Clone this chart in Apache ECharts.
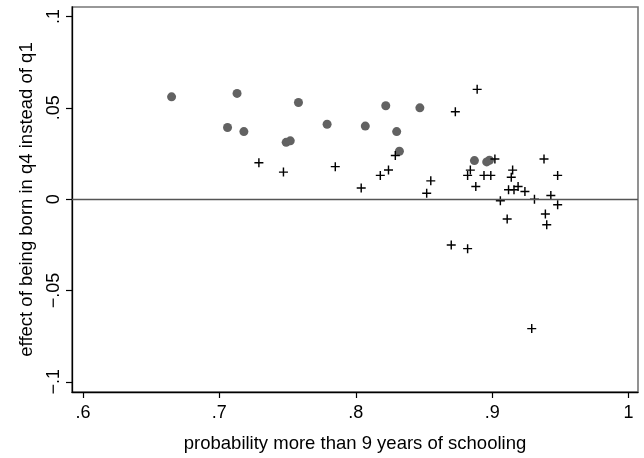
<!DOCTYPE html>
<html><head><meta charset="utf-8">
<script src="https://cdn.jsdelivr.net/npm/echarts@6/dist/echarts.min.js"></script>
<style>html,body{margin:0;padding:0;background:#fff}#c{width:644px;height:458px}</style>
</head><body><div id="c"></div>
<script>
// circles (gray dots)
const circleX = [0.665,0.713,0.706,0.718,0.758,0.749,0.752,0.779,0.807,0.822,0.847,0.830,0.832,0.887,0.896,0.898];
const circleY = [0.0560,0.0579,0.0392,0.0370,0.0529,0.0311,0.0319,0.0410,0.0400,0.0511,0.0500,0.0370,0.0262,0.0211,0.0204,0.0213];
// crosses (black plus)
const crossX = [0.729,0.747,0.785,0.804,0.818,0.824,0.829,0.852,0.855,0.870,0.873,0.882,0.889,0.882,0.884,0.888,0.894,0.899,0.902,0.906,0.911,0.912,0.916,0.914,0.915,0.919,0.924,0.929,0.931,0.938,0.939,0.940,0.943,0.948,0.948];
const crossY = [0.0199,0.0148,0.0178,0.0061,0.0130,0.0160,0.0239,0.0032,0.0100,-0.0251,0.0478,-0.0271,0.0601,0.0130,0.0159,0.0069,0.0130,0.0130,0.0220,-0.0009,-0.0109,0.0051,0.0051,0.0120,0.0159,0.0069,0.0042,-0.0709,0.0000,0.0220,-0.0081,-0.0140,0.0020,0.0130,-0.0031];
const xTicks = [0.6,0.7,0.8,0.9,1];
const xTickLabels = ['.6','.7','.8','.9','1'];
const yTicks = [-0.1,-0.05,0,0.05,0.1];
const yTickLabels = ['\u2212.1','\u2212.05','0','.05','.1'];
const xTitle = 'probability more than 9 years of schooling';
const yTitle = 'effect of being born in q4 instead of q1';

const FONT = '"Liberation Sans", Arial, Helvetica, sans-serif';
function lab(ticks, labels){
  return v => { const i = ticks.findIndex(t => Math.abs(t - v) < 1e-9); return i >= 0 ? labels[i] : ''; };
}
const plusPath = 'path://M4.2,0H5.8V4.2H10V5.8H5.8V10H4.2V5.8H0V4.2H4.2Z';

const chart = echarts.init(document.getElementById('c'), null, {renderer:'canvas'});
chart.setOption({
  animation: false,
  backgroundColor: '#ffffff',
  grid: {left: 72, right: 6, top: 7, bottom: 61, show: true, borderColor: '#777777', borderWidth: 1.6, backgroundColor: 'transparent'},
  xAxis: {
    type: 'value', min: 0.592, max: 1.0069,
    name: xTitle, nameLocation: 'middle', nameGap: 42,
    nameTextStyle: {fontFamily: FONT, fontSize: 18.5, color: '#000'},
    axisLine: {show: true, onZero: false, lineStyle: {color: '#000', width: 1.3}},
    axisTick: {show: true, length: 6, customValues: xTicks, lineStyle: {color: '#000', width: 1.2}},
    axisLabel: {customValues: xTicks, formatter: lab(xTicks, xTickLabels), margin: 12, fontFamily: FONT, fontSize: 18, color: '#000'},
    splitLine: {show: false}
  },
  yAxis: {
    type: 'value', min: -0.1056, max: 0.1052,
    name: yTitle, nameLocation: 'middle', nameGap: 36, nameRotate: 90,
    nameTextStyle: {fontFamily: FONT, fontSize: 18.5, color: '#000'},
    axisLine: {show: true, onZero: false, lineStyle: {color: '#000', width: 1.3}},
    axisTick: {show: true, length: 6, customValues: yTicks, lineStyle: {color: '#000', width: 1.2}},
    axisLabel: {customValues: yTicks, formatter: lab(yTicks, yTickLabels), rotate: 90, margin: 9, fontFamily: FONT, fontSize: 18, color: '#000'},
    splitLine: {show: false}
  },
  series: [
    {
      type: 'scatter', name: 'circles',
      data: circleX.map((x, i) => [x, circleY[i]]),
      symbol: 'circle', symbolSize: 9,
      itemStyle: {color: '#626262', opacity: 1},
      markLine: {
        silent: true, symbol: 'none', label: {show: false},
        lineStyle: {color: '#555555', width: 1.3, type: 'solid'},
        data: [{yAxis: 0}]
      }
    },
    {
      type: 'scatter', name: 'crosses',
      data: crossX.map((x, i) => [x, crossY[i]]),
      symbol: plusPath, symbolSize: 9,
      itemStyle: {color: '#000000', opacity: 1}
    }
  ]
});
</script>
</body></html>
